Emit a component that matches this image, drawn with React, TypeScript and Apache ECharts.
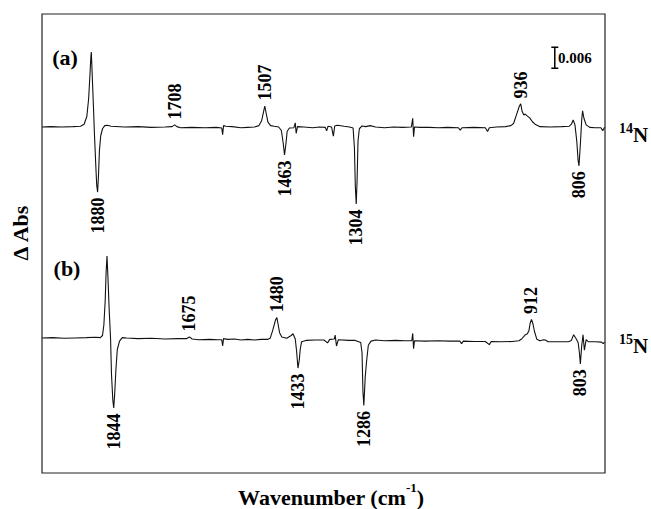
import { useEffect, useRef } from 'react';
import * as echarts from 'echarts';

// Spectrum (a): 14N — vertices [wavenumber cm-1, ΔAbs]
const traceA: [number, number][] = [
  [2004, 0.0], [1985, 0.0001], [1960, 0.0], [1935, 0.0001], [1918, 0.0002],
  [1910, 0.0008], [1904, 0.003], [1900, 0.008], [1897, 0.015], [1895, 0.02],
  [1894, 0.0214], [1892, 0.015], [1889, 0.005], [1887, -0.002], [1884, -0.011],
  [1882, -0.0165], [1880, -0.0186], [1878, -0.014], [1876, -0.007], [1873, -0.0025],
  [1869, -0.0005], [1864, 0.0004], [1858, 0.0005], [1850, 0.0002], [1820, 0.0],
  [1790, 0.0001], [1760, -0.0001], [1730, 0.0], [1714, 0.0001], [1708, 0.0006],
  [1703, 0.0001], [1695, -0.0002], [1670, -0.0001], [1640, -0.0002], [1615, -0.0001],
  [1603, -0.0003], [1601, -0.0022], [1599, 0.0004], [1594, 0.0002], [1580, 0.0001],
  [1560, -0.0002], [1545, -0.0001], [1530, 0.0], [1520, 0.0004], [1514, 0.0018],
  [1510, 0.0042], [1507, 0.006], [1504, 0.004], [1500, 0.0014], [1494, 0.0004],
  [1486, 0.0002], [1476, 0.0], [1470, -0.001], [1466, -0.0045], [1463, -0.008],
  [1460, -0.005], [1457, -0.0012], [1452, -0.0003], [1442, -0.0002], [1439, 0.0012],
  [1437, -0.0018], [1434, 0.0001], [1420, 0.0], [1400, -0.0002], [1385, 0.0],
  [1372, -0.0001], [1369, -0.0011], [1366, 0.0002], [1358, 0.0], [1354, -0.0026],
  [1351, 0.0003], [1345, 0.0005], [1330, 0.0002], [1318, 0.0], [1310, -0.0003],
  [1307, -0.006], [1305, -0.017], [1303, -0.022], [1301, -0.015], [1299, -0.004],
  [1296, -0.0005], [1290, 0.0003], [1282, 0.0001], [1272, 0.0004], [1260, 0.0],
  [1240, -0.0002], [1220, 0.0], [1200, -0.0001], [1180, 0.0], [1177, 0.0025],
  [1175, -0.0028], [1173, 0.0], [1160, -0.0001], [1140, -0.0001], [1120, -0.0002],
  [1100, -0.0001], [1075, -0.0002], [1071, -0.0009], [1067, -0.0002], [1040, -0.0001],
  [1015, -0.0002], [1010, -0.0013], [1006, -0.0002], [990, 0.0], [970, 0.0001],
  [958, 0.0004], [952, 0.001], [945, 0.0037], [939, 0.006], [936, 0.0066],
  [933, 0.0045], [929, 0.0034], [926, 0.0037], [921, 0.0031], [916, 0.0026],
  [910, 0.0015], [904, 0.0008], [893, 0.0001], [870, 0.0], [845, 0.0001],
  [828, 0.0002], [823, 0.0008], [819, 0.002], [815, 0.0006], [811, -0.004],
  [808, -0.0095], [806, -0.0111], [803, -0.005], [800, 0.002], [798, 0.0046],
  [795, 0.0025], [790, 0.0006], [782, -0.0001], [770, -0.0002], [757, -0.0002],
  [753, -0.0011], [749, -0.0001],
];

// Spectrum (b): 15N
const traceB: [number, number][] = [
  [2004, 0.0003], [1980, 0.0004], [1955, 0.0002], [1930, 0.0003], [1905, 0.0004],
  [1885, 0.0005], [1874, 0.0004], [1869, 0.001], [1866, 0.004], [1863, 0.011],
  [1861, 0.019], [1859, 0.0237], [1857, 0.018], [1854, 0.008], [1851, 0.0],
  [1849, -0.01], [1846, -0.0175], [1844, -0.0197], [1842, -0.016], [1839, -0.0085],
  [1836, -0.003], [1831, -0.0006], [1825, 0.0004], [1815, 0.0003], [1790, 0.0001],
  [1760, 0.0002], [1730, 0.0], [1700, 0.0001], [1682, 0.0001], [1675, 0.0006],
  [1669, 0.0], [1655, -0.0002], [1630, -0.0001], [1612, -0.0002], [1603, -0.0002],
  [1601, -0.002], [1599, 0.0001], [1590, -0.0001], [1575, 0.0], [1560, -0.0003],
  [1545, -0.0001], [1530, -0.0003], [1515, -0.0001], [1500, -0.0001], [1495, 0.0002],
  [1489, 0.0026], [1483, 0.0055], [1480, 0.0061], [1477, 0.004], [1474, 0.0018],
  [1469, 0.0006], [1458, 0.0002], [1448, 0.001], [1444, 0.0015], [1439, 0.0],
  [1436, -0.0035], [1433, -0.0083], [1430, -0.006], [1428, -0.003], [1425, -0.0008],
  [1415, -0.0004], [1395, -0.0003], [1375, -0.0003], [1367, -0.0011], [1362, -0.0001],
  [1352, 0.0], [1350, 0.0011], [1347, -0.002], [1343, -0.0002], [1320, -0.0004],
  [1305, -0.0004], [1293, -0.001], [1290, -0.004], [1288, -0.015], [1286, -0.019],
  [1283, -0.011], [1280, -0.0065], [1276, -0.0018], [1270, -0.0006], [1260, -0.0003],
  [1240, -0.0005], [1215, -0.0004], [1195, -0.0005], [1179, -0.0005], [1177, 0.0016],
  [1175, -0.0028], [1173, -0.0005], [1150, -0.0006], [1120, -0.0005], [1095, -0.0006],
  [1072, -0.0006], [1068, -0.0013], [1064, -0.0006], [1040, -0.0007], [1015, -0.0007],
  [1006, -0.0016], [1002, -0.0007], [980, -0.0008], [955, -0.0007], [940, -0.0005],
  [934, 0.0], [926, 0.0012], [922, 0.0014], [918, 0.0022], [915, 0.0045],
  [912, 0.0056], [909, 0.0045], [905, 0.002], [900, -0.0001], [893, -0.0005],
  [885, -0.0002], [881, -0.0003], [875, -0.0008], [850, -0.0008], [830, -0.0008],
  [823, -0.0004], [818, 0.0012], [813, 0.0002], [808, -0.001], [805, -0.004],
  [803, -0.0071], [800, -0.002], [797, 0.0012], [794, -0.0032], [790, -0.0002],
  [785, -0.0008], [770, -0.0008], [756, -0.0009], [752, -0.0013], [749, -0.0009],
];

// vertical display offsets of the two spectra
const offsetA = 0.0606;
const offsetB = 0;

// peak annotations [wavenumber, ΔAbs at peak, text]
const labelsA: [number, number, string][] = [
  [1880, -0.0186, '1880'], [1708, 0.0006, '1708'], [1507, 0.006, '1507'],
  [1463, -0.008, '1463'], [1304, -0.022, '1304'], [936, 0.0066, '936'],
  [806, -0.0111, '806'],
];
const labelsB: [number, number, string][] = [
  [1844, -0.0197, '1844'], [1675, 0.0006, '1675'], [1480, 0.0061, '1480'],
  [1433, -0.0083, '1433'], [1286, -0.019, '1286'], [912, 0.0056, '912'],
  [803, -0.0071, '803'],
];

// scale bar (ΔAbs = 0.006)
const scaleBar: [number, number][] = [[860, 0.0774], [860, 0.0834]];
const scaleBarText = '0.006';

const panelLabels = ['(a)', '(b)'];
const isotopeLabels: [string, string][] = [['14', 'N'], ['15', 'N']];
const xTitle = ['Wavenumber (cm', '-1', ')'];
const yTitle = 'Δ Abs';

const FONT = '"Liberation Serif", "Times New Roman", serif';
const INK = '#000';

function labelSeries(labels: [number, number, string][], offset: number) {
  return {
    type: 'scatter',
    symbolSize: 1,
    silent: true,
    itemStyle: { color: 'rgba(0,0,0,0)' },
    z: 5,
    label: {
      show: true,
      rotate: 90,
      distance: 5,
      verticalAlign: 'middle',
      fontFamily: 'Liberation Serif',
      fontWeight: 700,
      fontSize: 18,
      color: '#000',
      opacity: 1,
      formatter: (p: any) => p.data.text,
    },
    data: labels.map(([wn, v, t]) => ({
      value: [wn, v + offset],
      text: t,
      label: {
        position: v >= 0 ? 'top' : 'bottom',
        align: v >= 0 ? 'left' : 'right',
      },
    })),
  };
}

function traceSeries(data: [number, number][], offset: number) {
  return {
    type: 'line',
    showSymbol: false,
    silent: true,
    lineStyle: { color: '#111', width: 1.1 },
    data: data.map(([wn, v]) => [wn, v + offset]),
    z: 3,
  };
}

export default function App() {
  const ref = useRef<HTMLDivElement>(null);
  useEffect(() => {
    if (!ref.current) return;
    const chart = echarts.init(ref.current, undefined, { renderer: 'svg' });
    const txt = (o: any) => ({
      type: 'text',
      silent: true,
      ...o,
      style: {
        fill: INK,
        align: 'center',
        verticalAlign: 'middle',
        textAlign: 'center',
        textVerticalAlign: 'middle',
        ...o.style,
      },
    });
    chart.setOption({
      animation: false,
      backgroundColor: '#fff',
      grid: {
        left: 42, top: 14, right: 46, bottom: 36,
        show: true, borderColor: '#222', borderWidth: 1.2,
      },
      xAxis: {
        type: 'value', min: 748, max: 2004, inverse: true,
        axisLine: { show: false }, axisTick: { show: false },
        axisLabel: { show: false }, splitLine: { show: false },
      },
      yAxis: {
        type: 'value', min: -0.0383, max: 0.0929,
        axisLine: { show: false }, axisTick: { show: false },
        axisLabel: { show: false }, splitLine: { show: false },
      },
      series: [
        traceSeries(traceA, offsetA),
        traceSeries(traceB, offsetB),
        labelSeries(labelsA, offsetA),
        labelSeries(labelsB, offsetB),
        {
          type: 'line',
          silent: true,
          data: scaleBar,
          showSymbol: true,
          symbol: 'rect',
          symbolSize: [7, 1.5],
          itemStyle: { color: INK },
          lineStyle: { color: INK, width: 1.5 },
        },
      ],
      graphic: [
        txt({ x: 65, y: 57, style: { text: panelLabels[0], font: `bold 22px ${FONT}` } }),
        txt({ x: 67, y: 268, style: { text: panelLabels[1], font: `bold 22px ${FONT}` } }),
        txt({
          x: 558, y: 58,
          style: { text: scaleBarText, font: `bold 15px ${FONT}`, align: 'left', textAlign: 'left' },
        }),
        txt({
          x: 20, y: 233, rotation: Math.PI / 2,
          style: { text: yTitle, font: `bold 22px ${FONT}` },
        }),
        txt({
          x: 331, y: 497,
          style: {
            text: `{m|${xTitle[0]}}{s|${xTitle[1]}}{m|${xTitle[2]}}`,
            rich: {
              m: { fontFamily: FONT, fontWeight: 'bold', fontSize: 22, lineHeight: 32, fill: INK },
              s: { fontFamily: FONT, fontWeight: 'bold', fontSize: 13, lineHeight: 13, verticalAlign: 'top', fill: INK },
            },
          },
        }),
        ...isotopeLabels.map(([iso, el], i) =>
          txt({
            x: 619, y: i === 0 ? 135 : 346,
            style: {
              text: `{s|${iso}}{n|${el}}`,
              align: 'left', textAlign: 'left',
              rich: {
                n: { fontFamily: FONT, fontWeight: 'bold', fontSize: 21, lineHeight: 28, fill: INK },
                s: { fontFamily: FONT, fontWeight: 'bold', fontSize: 14, lineHeight: 14, verticalAlign: 'top', fill: INK },
              },
            },
          })
        ),
      ],
    });
    return () => chart.dispose();
  }, []);
  return (
    <div
      ref={ref}
      style={{ position: 'fixed', left: 0, top: 0, width: 651, height: 509, background: '#fff' }}
    />
  );
}
